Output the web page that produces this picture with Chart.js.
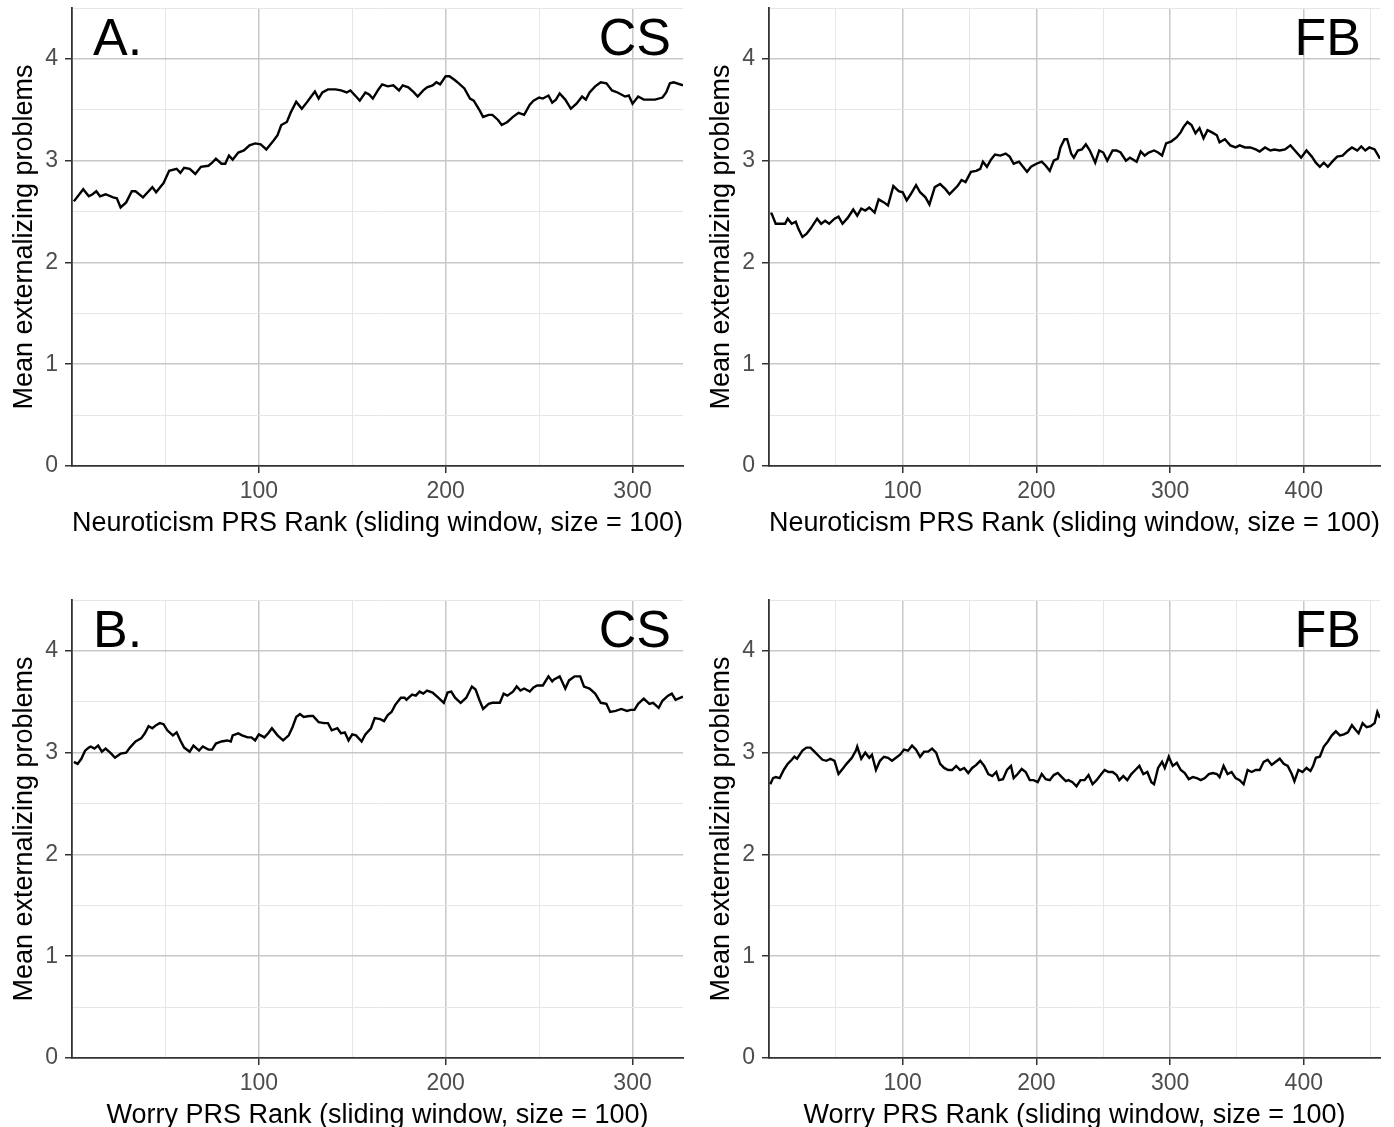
<!DOCTYPE html>
<html><head><meta charset="utf-8">
<script src="https://cdn.jsdelivr.net/npm/chart.js@4.4.1/dist/chart.umd.min.js"></script>
<style>
html,body{margin:0;padding:0;background:#fff;overflow:hidden;}
body{width:1394px;height:1127px;position:relative;}
.p{position:absolute;width:697px;height:545px;}
canvas{display:block;}
</style></head><body>
<div class="p" style="left:0;top:0"><canvas id="c0" width="697" height="545"></canvas></div>
<div class="p" style="left:697px;top:0"><canvas id="c1" width="697" height="545"></canvas></div>
<div class="p" style="left:0;top:592px"><canvas id="c2" width="697" height="545"></canvas></div>
<div class="p" style="left:697px;top:592px"><canvas id="c3" width="697" height="545"></canvas></div>
<script>
// ---------- data ----------
const csNeuroRank = [1,6,9,11,13,15,18,22,24,26,29,32,34,38,41,43,45,49,52,56,58,60,63,66,69,73,75,77,80,82,84,86,89,92,95,98,101,104,108,110,112,115,117,120,123,126,128,130,132,134,137,141,144,147,149,152,154,157,159,161,164,166,169,172,175,177,180,183,185,188,190,193,195,197,200,202,205,207,210,213,215,218,220,223,225,228,230,233,236,239,242,245,247,250,252,255,257,259,261,264,267,270,273,275,277,280,283,286,289,292,296,298,300,303,306,309,312,316,318,320,322,327];
const csNeuroMean = [2.60,2.72,2.65,2.67,2.70,2.65,2.67,2.64,2.63,2.54,2.59,2.70,2.70,2.64,2.70,2.74,2.69,2.78,2.90,2.92,2.88,2.93,2.92,2.87,2.94,2.95,2.98,3.02,2.97,2.97,3.05,3.01,3.08,3.10,3.15,3.17,3.16,3.11,3.20,3.25,3.35,3.38,3.47,3.58,3.51,3.58,3.63,3.68,3.61,3.67,3.70,3.70,3.69,3.67,3.69,3.63,3.59,3.67,3.65,3.61,3.70,3.75,3.73,3.74,3.69,3.74,3.72,3.67,3.63,3.69,3.72,3.74,3.77,3.75,3.83,3.83,3.79,3.76,3.71,3.61,3.59,3.50,3.43,3.45,3.45,3.40,3.35,3.38,3.43,3.47,3.45,3.55,3.59,3.62,3.61,3.64,3.57,3.60,3.66,3.60,3.51,3.56,3.63,3.60,3.67,3.73,3.77,3.76,3.69,3.67,3.63,3.64,3.56,3.63,3.60,3.60,3.60,3.62,3.67,3.76,3.77,3.74];

const fbNeuroRank = [1,2,5,9,12,14,17,20,22,25,28,31,36,39,42,45,49,52,55,59,63,66,69,72,75,79,82,86,89,93,97,100,103,106,110,113,117,120,124,128,132,135,138,141,144,147,151,155,158,160,163,166,169,173,177,180,183,187,190,193,196,200,204,207,210,213,216,218,221,223,226,228,231,234,237,240,244,247,250,253,257,260,263,267,270,275,278,281,284,288,291,294,297,301,305,308,310,313,316,319,322,325,328,331,335,337,341,345,349,352,356,360,364,367,371,375,378,382,386,390,394,398,402,406,409,412,415,418,422,425,429,433,436,440,443,446,449,453,457];
const fbNeuroMean = [2.48,2.48,2.38,2.38,2.38,2.43,2.38,2.40,2.33,2.25,2.28,2.33,2.43,2.38,2.41,2.38,2.43,2.45,2.38,2.44,2.52,2.46,2.53,2.51,2.54,2.49,2.62,2.59,2.56,2.75,2.70,2.69,2.61,2.67,2.76,2.69,2.64,2.57,2.74,2.77,2.72,2.67,2.71,2.75,2.81,2.79,2.89,2.90,2.92,2.99,2.94,3.01,3.06,3.05,3.07,3.04,2.97,2.99,2.94,2.89,2.94,2.97,2.99,2.95,2.90,3.00,3.02,3.13,3.21,3.21,3.07,3.03,3.10,3.11,3.16,3.10,2.98,3.10,3.08,3.00,3.10,3.10,3.08,3.00,3.03,2.99,3.09,3.05,3.08,3.10,3.08,3.05,3.17,3.19,3.23,3.28,3.33,3.38,3.35,3.27,3.32,3.22,3.30,3.28,3.25,3.18,3.21,3.15,3.13,3.15,3.13,3.13,3.11,3.09,3.13,3.10,3.11,3.10,3.11,3.15,3.09,3.03,3.10,3.04,2.98,2.94,2.98,2.94,3.00,3.04,3.05,3.10,3.13,3.10,3.14,3.10,3.13,3.11,3.02];

const csWorryRank = [1,3,5,7,9,10,12,14,16,18,21,23,26,29,31,34,37,39,41,43,45,47,49,51,54,56,58,60,63,65,68,70,73,75,77,80,83,85,86,89,91,94,96,98,100,103,105,107,110,113,116,118,120,122,124,127,129,132,135,137,139,142,144,146,148,150,152,155,157,160,162,165,167,169,171,173,176,178,179,182,184,186,188,190,193,196,199,201,203,205,208,211,214,216,218,220,223,225,229,231,233,236,238,240,242,245,247,249,252,255,257,258,261,264,266,269,272,274,277,280,283,286,288,291,294,297,299,301,303,306,309,311,314,316,319,321,323,327];
const csWorryMean = [2.91,2.89,2.94,3.02,3.05,3.06,3.04,3.07,3.01,3.04,2.99,2.95,2.99,3.00,3.05,3.11,3.14,3.19,3.26,3.24,3.27,3.29,3.28,3.22,3.17,3.20,3.12,3.05,3.01,3.07,3.02,3.06,3.03,3.03,3.09,3.11,3.12,3.11,3.17,3.19,3.17,3.15,3.15,3.12,3.18,3.15,3.19,3.24,3.17,3.12,3.17,3.25,3.35,3.38,3.35,3.36,3.36,3.30,3.29,3.29,3.22,3.24,3.19,3.20,3.12,3.18,3.17,3.11,3.18,3.24,3.34,3.33,3.31,3.37,3.40,3.47,3.54,3.54,3.52,3.57,3.56,3.60,3.58,3.61,3.59,3.54,3.49,3.59,3.60,3.54,3.49,3.54,3.65,3.62,3.52,3.43,3.48,3.49,3.49,3.58,3.56,3.60,3.65,3.61,3.63,3.60,3.64,3.66,3.66,3.75,3.70,3.72,3.75,3.63,3.71,3.75,3.75,3.65,3.63,3.58,3.49,3.48,3.40,3.41,3.43,3.41,3.42,3.42,3.48,3.53,3.48,3.49,3.44,3.51,3.56,3.58,3.52,3.55];

const fbWorryRank = [1,3,5,8,11,14,17,19,21,23,25,28,31,34,37,40,43,46,49,52,55,58,62,65,66,69,72,75,77,80,83,86,89,92,95,98,101,104,107,110,113,116,119,122,125,128,131,134,137,140,143,146,149,152,155,158,161,164,167,170,172,175,178,181,183,186,189,192,195,198,201,204,207,210,213,216,219,222,224,227,230,233,236,239,242,245,248,251,254,257,260,262,265,268,271,274,277,280,283,286,288,291,294,296,299,302,305,308,311,314,317,320,323,326,329,332,335,337,340,343,346,349,352,355,358,361,364,367,370,373,376,379,382,385,388,391,393,396,399,402,405,407,409,412,415,418,421,424,427,430,433,436,439,441,444,447,450,453,455,457];
const fbWorryMean = [2.69,2.75,2.76,2.75,2.83,2.89,2.93,2.96,2.94,2.98,3.02,3.05,3.05,3.01,2.97,2.93,2.92,2.94,2.92,2.79,2.84,2.89,2.95,3.02,3.06,2.94,3.00,2.95,2.98,2.83,2.92,2.96,2.95,2.92,2.95,2.98,3.03,3.02,3.07,3.03,2.96,3.01,3.01,3.04,3.00,2.89,2.85,2.83,2.83,2.87,2.83,2.85,2.80,2.85,2.88,2.92,2.87,2.79,2.77,2.81,2.73,2.74,2.83,2.87,2.75,2.79,2.84,2.81,2.73,2.73,2.71,2.79,2.74,2.73,2.78,2.80,2.76,2.72,2.73,2.71,2.67,2.73,2.73,2.78,2.69,2.73,2.78,2.83,2.81,2.81,2.78,2.73,2.77,2.73,2.79,2.83,2.87,2.79,2.81,2.71,2.69,2.85,2.91,2.85,2.96,2.87,2.90,2.83,2.80,2.74,2.76,2.75,2.73,2.75,2.79,2.80,2.79,2.76,2.87,2.79,2.81,2.75,2.73,2.69,2.83,2.81,2.83,2.83,2.91,2.93,2.88,2.91,2.94,2.89,2.87,2.79,2.72,2.83,2.81,2.85,2.82,2.87,2.95,2.96,3.06,3.11,3.17,3.21,3.17,3.18,3.20,3.27,3.22,3.19,3.29,3.25,3.26,3.29,3.40,3.34];

// ---------- ticks & labels ----------
const xTicksCS = [50,100,150,200,250,300];
const xTicksFB = [50,100,150,200,250,300,350,400,450];
const yTicks = [0,0.5,1,1.5,2,2.5,3,3.5,4,4.5];
const xMaxCS = 327, xMaxFB = 457;
const yTitle = 'Mean externalizing problems';
const xTitleNeuro = 'Neuroticism PRS Rank (sliding window, size = 100)';
const xTitleWorry = 'Worry PRS Rank (sliding window, size = 100)';

const FONT = '"Liberation Sans", Arial, Helvetica, sans-serif';
const MAJOR = '#c8c8c8', MINOR = '#e6e6e6', AXIS = '#333333';

const panelLabels = {
  id: 'panelLabels',
  afterDraw(chart, args, opts) {
    const {ctx, chartArea} = chart;
    ctx.save();
    ctx.fillStyle = '#000';
    ctx.font = '52px ' + FONT;
    ctx.textBaseline = 'alphabetic';
    if (opts.letter) {
      ctx.textAlign = 'left';
      ctx.fillText(opts.letter, chartArea.left + 21, chartArea.top + 47);
    }
    ctx.textAlign = 'right';
    ctx.fillText(opts.cohort, chartArea.right - opts.rightOff, chartArea.top + 47);
    ctx.restore();
  }
};

function makeChart(id, ranks, means, xMax, xTicks, xTitle, letter, cohort, rightOff) {
  new Chart(document.getElementById(id), {
    type: 'line',
    data: { datasets: [{
      data: ranks.map((r, i) => ({x: r, y: means[i]})),
      borderColor: '#000', borderWidth: 2.4, pointRadius: 0, tension: 0, fill: false
    }]},
    plugins: [panelLabels],
    options: {
      responsive: false, animation: false, events: [],
      layout: { padding: {top: 8, right: 14, left: 0, bottom: 0} },
      plugins: { legend: {display: false}, tooltip: {enabled: false},
        panelLabels: {letter, cohort, rightOff} },
      scales: {
        x: {
          type: 'linear', min: 0, max: xMax,
          afterBuildTicks: s => { s.ticks = xTicks.map(v => ({value: v})); },
          afterFit: s => { s.height = 79; s.paddingLeft = 0; s.paddingRight = 0; },
          ticks: { autoSkip: false, maxRotation: 0, color: '#4d4d4d', padding: 5,
            font: {family: FONT, size: 23},
            callback: v => (v % 100 === 0 ? String(v) : '') },
          grid: { color: c => (c.tick && c.tick.value % 100 === 0 ? MAJOR : MINOR),
            lineWidth: c => (c.tick && c.tick.value % 100 === 0 ? 1.5 : 1),
            tickColor: c => (c.tick && c.tick.value % 100 === 0 ? AXIS : 'rgba(0,0,0,0)'),
            tickLength: 7, tickWidth: 1.5 },
          border: { display: true, color: AXIS, width: 1.8 },
          title: { display: true, text: xTitle, color: '#000',
            font: {family: FONT, size: 27}, padding: {top: 0, bottom: 5} }
        },
        y: {
          type: 'linear', min: 0, max: 4.5,
          afterBuildTicks: s => { s.ticks = yTicks.map(v => ({value: v})); },
          afterFit: s => { s.width = 72; s.paddingTop = 0; s.paddingBottom = 0; },
          ticks: { autoSkip: false, color: '#4d4d4d', padding: 7,
            font: {family: FONT, size: 23},
            callback: v => (Number.isInteger(v) ? String(v) : '') },
          grid: { color: c => (!c.tick ? MINOR : c.tick.value === 0 ? 'rgba(0,0,0,0)' : Number.isInteger(c.tick.value) ? MAJOR : MINOR),
            lineWidth: c => (c.tick && Number.isInteger(c.tick.value) ? 1.5 : 1),
            tickColor: c => (c.tick && Number.isInteger(c.tick.value) ? AXIS : 'rgba(0,0,0,0)'),
            tickLength: 7, tickWidth: 1.5 },
          border: { display: true, color: AXIS, width: 1.8 },
          title: { display: true, text: yTitle, color: '#000',
            font: {family: FONT, size: 27}, padding: {top: 8, bottom: 0} }
        }
      }
    }
  });
}

makeChart('c0', csNeuroRank, csNeuroMean, xMaxCS, xTicksCS, xTitleNeuro, 'A.', 'CS', 12);
makeChart('c1', fbNeuroRank, fbNeuroMean, xMaxFB, xTicksFB, xTitleNeuro, '', 'FB', 19);
makeChart('c2', csWorryRank, csWorryMean, xMaxCS, xTicksCS, xTitleWorry, 'B.', 'CS', 12);
makeChart('c3', fbWorryRank, fbWorryMean, xMaxFB, xTicksFB, xTitleWorry, '', 'FB', 19);
</script>
</body></html>
